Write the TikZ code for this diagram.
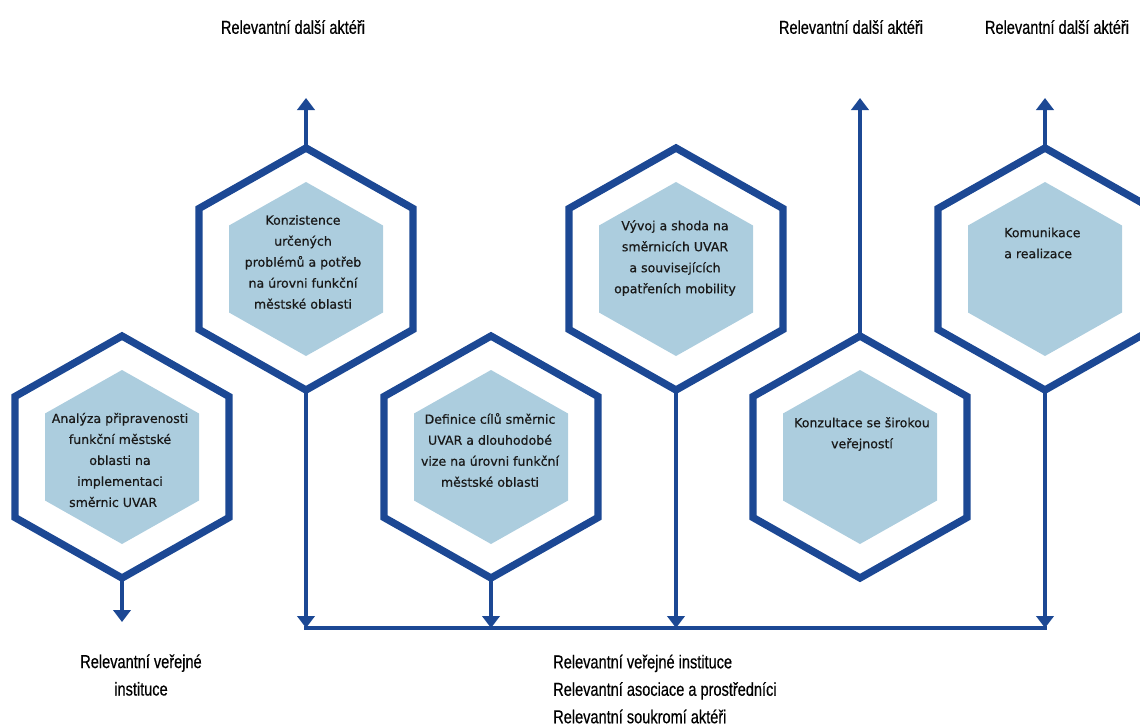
\documentclass[tikz,border=0pt]{standalone}
\usepackage{fontspec}
\usetikzlibrary{arrows.meta}

\newfontfamily\hexfont[FakeBold=0.6]{DejaVu Sans}
\newfontfamily\actorfont[FakeStretch=0.78,FakeBold=0.5]{Liberation Sans}
\definecolor{hexblue}{RGB}{28,72,148}
\definecolor{hexfill}{RGB}{172,205,222}
\definecolor{hextextcol}{RGB}{25,25,25}

\begin{document}
\begin{tikzpicture}[%
    x=0.75pt, y=-0.75pt,
    outerhex/.style={
        draw=hexblue,
        line width=5.5pt,
        line join=miter,
        },
    innerhex/.style={
        fill=hexfill,
        },
    steptext/.style={
        font=\hexfont\fontsize{9.4}{15.75}\selectfont,
        text=hextextcol,
        align=center,
        inner sep=0,
        },
    actorlabel/.style={
        font=\actorfont\fontsize{14}{20.6}\selectfont,
        align=center,
        inner sep=0,
        },
    flowarrow/.style={
        draw=hexblue,
        line width=3.5pt,
        -{Triangle[width=13pt,length=9pt]},
        },
    busline/.style={
        draw=hexblue,
        line width=3.5pt,
        },
]

\useasboundingbox (0,0) rectangle (1140,726);

% hexagon frames, top and bottom corners kept as coordinates
\foreach \hx/\cx/\cy in {ana/122/457, kon/306/269, def/491/457, vyv/676/269, kzt/860/457, kom/1045/269}{
    \draw[outerhex] (\cx,\cy-121) -- ++(107,60.5) -- ++(0,121) -- ++(-107,60.5)
        -- ++(-107,-60.5) -- ++(0,-121) -- cycle;
    \fill[innerhex] (\cx,\cy-87) -- ++(77,43.5) -- ++(0,87) -- ++(-77,43.5)
        -- ++(-77,-43.5) -- ++(0,-87) -- cycle;
    \coordinate (\hx-top) at (\cx,\cy-121);
    \coordinate (\hx-bot) at (\cx,\cy+121);
}

\node[steptext] (ana-text) at (120,460) {Analýza připravenosti\\funkční městské\\oblasti na\\implementaci\\směrnic UVAR\hspace*{1.1em}};
\node[steptext] (kon-text) at (303,262) {Konzistence\\určených\\problémů a potřeb\\na úrovni funkční\\městské oblasti};
\node[steptext] (def-text) at (490,450) {Definice cílů směrnic\\UVAR a dlouhodobé\\vize na úrovni funkční\\městské oblasti};
\node[steptext] (vyv-text) at (675,258) {Vývoj a shoda na\\směrnicích UVAR\\a souvisejících\\opatřeních mobility};
\node[steptext] (kzt-text) at (862,434) {Konzultace se širokou\\veřejností};
\node[steptext, align=left, anchor=west] (kom-text) at (1004,243) {Komunikace\\a realizace};

\node[actorlabel] (top-kon) at (293,27) {Relevantní další aktéři};
\node[actorlabel] (top-kzt) at (851,27) {Relevantní další aktéři};
\node[actorlabel] (top-kom) at (1057,27) {Relevantní další aktéři};
\node[actorlabel] (bot-ana) at (141,675) {Relevantní veřejné\\instituce};
\node[actorlabel, align=left, anchor=west] (bot-bus) at (553,689) {Relevantní veřejné instituce\\Relevantní asociace a prostředníci\\Relevantní soukromí aktéři};

\coordinate (up-level) at (0,98);
\coordinate (ana-out) at (122,622);
\coordinate (bus-w) at (304,628);
\coordinate (bus-e) at (1047,628);

\foreach \hx in {kon,kzt,kom}
    \draw[flowarrow] (\hx-top) -- (\hx-top |- up-level);
\foreach \hx in {kon,def,vyv,kom}
    \draw[flowarrow] (\hx-bot) -- (\hx-bot |- bus-w);
\draw[flowarrow] (ana-bot) -- (ana-out);
\draw[busline] (bus-w) -- (bus-e);

\end{tikzpicture}
\end{document}
